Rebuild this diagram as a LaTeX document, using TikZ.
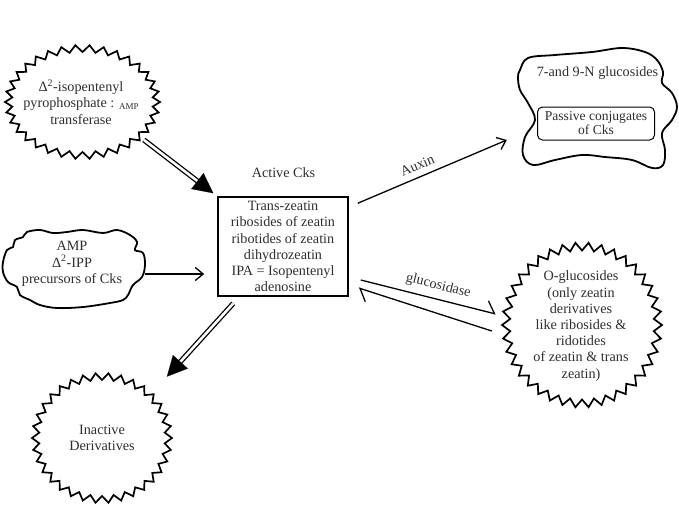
\documentclass[tikz,border=0pt]{standalone}
\usepackage{fontspec}
\setmainfont{Liberation Serif}
\usetikzlibrary{arrows.meta,shapes.geometric,calc}
\newcommand\zigburst[6]{%
  \draw[burstline] plot[samples at={0,...,#5}, variable=\t]
  ({#1+(#3-#6*(1-cos(90*\t)*cos(90*\t)+sin(90*\t)*sin(90*\t))/2)*cos(\t/#5*360)},
   {#2+(#4-#6*(1-cos(90*\t)*cos(90*\t)+sin(90*\t)*sin(90*\t))/2)*sin(\t/#5*360)}) -- cycle;}
\begin{document}
\begin{tikzpicture}[x=1pt,y=-1pt,
  txt/.style={align=center, font=\fontsize{14.2}{16.2}\selectfont, text=black!82, inner sep=0pt},
  burstline/.style={line width=1.7pt, line join=miter, miter limit=20},
  blob/.style={line width=1.8pt},
  arr/.style={line width=1.3pt, -{Straight Barb[length=8pt,width=13pt]}},
  dbl/.style={double, double distance=2.6pt, line width=1.3pt},
  harp/.style={line width=1.3pt, -{Straight Barb[harpoon,length=9pt,width=22pt]}},
  head/.style={line width=0.1pt, -{Triangle[length=20pt,width=20pt]}}
]
\useasboundingbox (0,0) rectangle (679,506);

% shapes
\zigburst{82.5}{102}{77.5}{57}{68}{7}
\zigburst{582}{325}{80}{82.5}{76}{8}
\zigburst{102}{438}{70}{65}{68}{7}

\draw[blob] plot[smooth cycle, tension=0.6] coordinates {
 (3,262) (7,250) (13,247) (15,240) (23,237) (27,232) (40,230) (53,233) (67,232)
 (83,230) (103,233) (117,230) (130,235) (137,242) (135,250) (143,253) (145,265)
 (142,277) (133,285) (128,295) (123,300) (110,303) (83,307) (57,308) (40,305)
 (30,300) (20,295) (17,287) (8,282) (3,272)};

\draw[blob] plot[smooth cycle, tension=0.6] coordinates {
 (520,70) (528,58) (555,55) (592,52) (622,48) (645,52) (657,60) (663,72) (662,83)
 (672,93) (677,107) (672,120) (662,133) (665,150) (663,165) (652,168) (632,160)
 (605,157) (582,155) (555,160) (533,165) (523,155) (525,137) (535,120) (528,103)
 (520,90) (518,77)};

% nodes
\node[txt, ellipse, minimum width=155pt, minimum height=114pt] (tl) at (81,102)
  {Δ\textsuperscript{2}-isopentenyl\\pyrophosphate : \raisebox{-1.5pt}{\fontsize{9}{9}\selectfont AMP}\\transferase};
\node[txt, minimum width=146pt, minimum height=78pt] (cl) at (72,264)
  {AMP\\Δ\textsuperscript{2}-IPP\\precursors of Cks};
\node[txt, draw=black, line width=1.5pt, minimum width=130pt, minimum height=99pt] (box) at (283,246.5)
  {Trans-zeatin\\ribosides of zeatin\\ribotides of zeatin\\dihydrozeatin\\IPA = Isopentenyl\\adenosine};
\node[txt] (act) at (283.5,173) {Active Cks};
\node[minimum width=160pt, minimum height=120pt, inner sep=0pt] (rb) at (597,108) {};
\node[txt] (ng) at (597.5,73) {7-and 9-N glucosides};
\node[txt, draw=black, line width=1pt, rounded corners=5pt, minimum width=117pt, minimum height=33pt,
  font=\fontsize{13.6}{14}\selectfont] (pc) at (596,123.5) {Passive conjugates\\of Cks};
\node[txt, ellipse, minimum width=160pt, minimum height=165pt] (rs) at (581,326)
  {O-glucosides\\(only zeatin\\derivatives\\like ribosides \&\\ridotides\\of zeatin \& trans\\zeatin)};
\node[txt, ellipse, minimum width=140pt, minimum height=130pt] (ia) at (102,438)
  {Inactive\\Derivatives};

% connectors
\draw[dbl, shorten <=1pt, shorten >=21pt] (tl.-31) -- (box.north west);
\draw[head] ($(box.north west)!25pt!(tl.-31)$) -- ($(box.north west)!5pt!(tl.-31)$);

\draw[dbl, shorten <=9pt, shorten >=38pt] (box.-131.6) -- (ia.42);
\draw[head] ($(ia.42)!41.6pt!(box.-131.6)$) -- ($(ia.42)!21.6pt!(box.-131.6)$);

\coordinate (ct) at ([yshift=-10pt]cl.east);
\draw[arr, shorten >=13pt] (ct) -- (ct -| box.west);

\draw[arr] ([xshift=9pt,yshift=-7pt]box.north east) -- ([xshift=-10pt,yshift=-32pt]rb.west)
  node[pos=0.43, above=6pt, sloped, txt] {Auxin};

\draw[harp] ([xshift=12pt,yshift=-33.5pt]box.east) -- ([xshift=-5pt,yshift=12pt]rs.west)
  node[pos=0.55, above=6pt, sloped, txt] {glucosidase};
\draw[harp] ([xshift=-9pt,yshift=-5pt]rs.west) -- ([xshift=10pt,yshift=-41.5pt]box.east);
\end{tikzpicture}
\end{document}
